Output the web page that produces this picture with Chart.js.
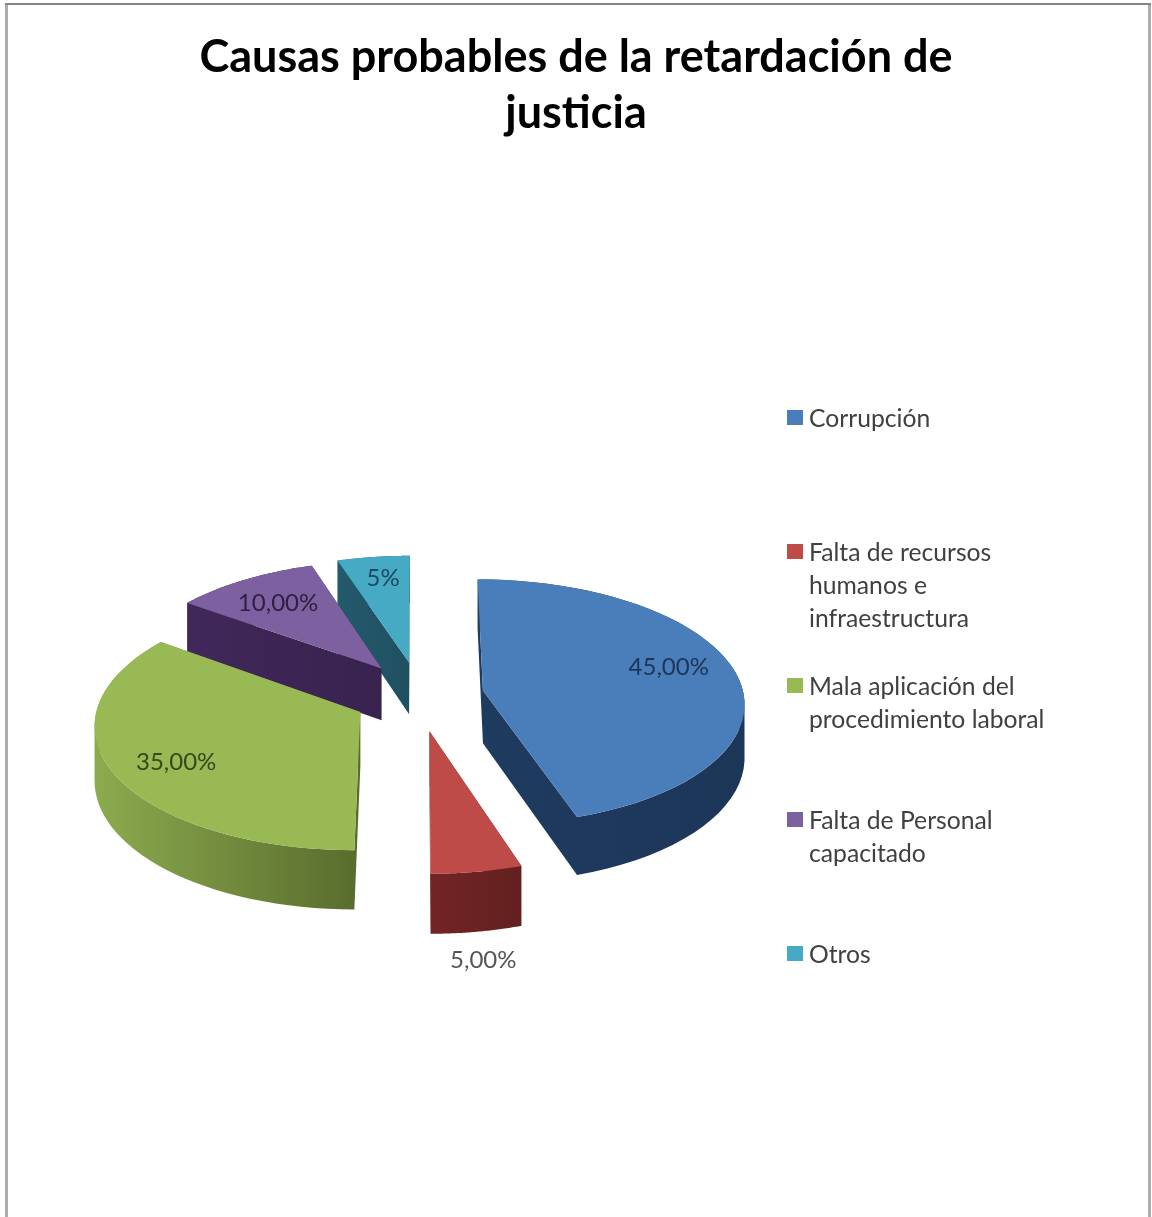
<!DOCTYPE html>
<html lang="es">
<head>
<meta charset="utf-8">
<title>Causas probables de la retardación de justicia</title>
<script src="https://cdn.jsdelivr.net/npm/chart.js@4"></script>
<style>
  html, body { margin: 0; padding: 0; background: #fff; }
  canvas { display: block; }
</style>
</head>
<body>
<canvas id="graficoCausas" width="1152" height="1217"></canvas>
<script>
const titulo = ['Causas probables de la retardación de', 'justicia'];
const categorias = [
  ['Corrupción'],
  ['Falta de recursos', 'humanos e', 'infraestructura'],
  ['Mala aplicación del', 'procedimiento laboral'],
  ['Falta de Personal', 'capacitado'],
  ['Otros']
];
const valores = [45, 5, 35, 10, 5];
const etiquetasValor = ['45,00%', '5,00%', '35,00%', '10,00%', '5%'];

const coloresCara = ['#4a7ebb', '#be4b48', '#98b954', '#7d60a0', '#46aac5'];
const lateralClaro = ['#1f3b60', '#722524', '#8cab4e', '#40285a', '#235a6c'];
const lateralOscuro = ['#1c3658', '#632020', '#586b2d', '#38234f', '#1f5061'];
const coloresEtiqueta = ['#1d3557', '#555555', '#35491c', '#2e1f42', '#1c4a60'];
// distancia de cada etiqueta al vértice, como fracción del radio, y ajuste fino en px
const radioEtiqueta = [0.73, 1.5, 0.75, 0.71, 0.77];
const ajusteEtiquetaX = [1, -21, 0, -4, 2];
const ajusteEtiquetaY = [-10, 7, 6, -1, -1];

const CENTRO_X = 419;
const RADIO = 261;
const SEPARACION = 65;
const ALTO_LATERAL = 53;
// aplastado y perspectiva del plano de la tarta
const APLASTADO = 0.469;
const PERSPECTIVA = 0.000353;
const SEPARACION_FONDO = 1.14;
const ORDEN_PINTADO = [4, 3, 2, 0, 1];

function proyectar(arco, wx, wz) {
  const s = 1 / (1 + PERSPECTIVA * wz);
  return { x: CENTRO_X + wx * s, y: arco.y - APLASTADO * wz * s, s: s };
}

function verticeSector(arco, offset) {
  const medio = (arco.startAngle + arco.endAngle) / 2;
  return {
    x: offset * Math.cos(medio),
    z: -offset * Math.sin(medio) * SEPARACION_FONDO,
    medio: medio
  };
}

function contornoSector(arco, offset) {
  const v = verticeSector(arco, offset);
  const puntos = [proyectar(arco, v.x, v.z)];
  const pasos = 48;
  for (let i = 0; i <= pasos; i++) {
    const a = arco.startAngle + (arco.endAngle - arco.startAngle) * i / pasos;
    puntos.push(proyectar(arco, v.x + arco.outerRadius * Math.cos(a), v.z - arco.outerRadius * Math.sin(a)));
  }
  return puntos;
}

// todas las paredes en un solo trazado; cada cuadrilátero va siempre
// de izquierda a derecha para que el relleno no deje huecos ni costuras
function rellenarParedes(ctx, puntos) {
  ctx.beginPath();
  puntos.forEach((p, n) => {
    const q = puntos[(n + 1) % puntos.length];
    const a = p.x <= q.x ? p : q;
    const b = p.x <= q.x ? q : p;
    ctx.moveTo(a.x, a.y);
    ctx.lineTo(b.x, b.y);
    ctx.lineTo(b.x, b.y + ALTO_LATERAL * b.s);
    ctx.lineTo(a.x, a.y + ALTO_LATERAL * a.s);
    ctx.closePath();
  });
  ctx.fill();
}

const tarta3d = {
  id: 'tarta3d',
  beforeDraw(chart) {
    const ctx = chart.ctx;
    // marco del gráfico, abierto por abajo
    ctx.save();
    ctx.fillStyle = '#adadad';
    ctx.fillRect(5, 3, 3, chart.height - 3);
    ctx.fillRect(1148, 3, 3, chart.height - 3);
    ctx.fillStyle = '#858585';
    ctx.fillRect(5, 3, 1146, 2);
    ctx.restore();
  },
  beforeDatasetsDraw(chart) {
    const ctx = chart.ctx;
    const arcos = chart.getDatasetMeta(0).data;

    ORDEN_PINTADO.forEach(i => {
      const arco = arcos[i];
      const puntos = contornoSector(arco, arco.options.offset);
      const xs = puntos.map(p => p.x);
      const degradado = ctx.createLinearGradient(Math.min(...xs), 0, Math.max(...xs), 0);
      degradado.addColorStop(0, lateralClaro[i]);
      degradado.addColorStop(1, lateralOscuro[i]);

      ctx.fillStyle = degradado;
      rellenarParedes(ctx, puntos);

      // cara superior
      ctx.beginPath();
      puntos.forEach((p, n) => (n ? ctx.lineTo(p.x, p.y) : ctx.moveTo(p.x, p.y)));
      ctx.closePath();
      ctx.fillStyle = arco.options.backgroundColor;
      ctx.fill();
    });

    return false;
  },
  afterDraw(chart) {
    const ctx = chart.ctx;
    const arcos = chart.getDatasetMeta(0).data;
    ctx.save();
    ctx.textBaseline = 'middle';

    // etiquetas de valor
    ctx.font = '24px Lato';
    ctx.textAlign = 'center';
    arcos.forEach((arco, i) => {
      const v = verticeSector(arco, arco.options.offset);
      const r = arco.outerRadius * radioEtiqueta[i];
      const p = proyectar(arco, v.x + r * Math.cos(v.medio), v.z - r * Math.sin(v.medio));
      ctx.fillStyle = coloresEtiqueta[i];
      ctx.fillText(etiquetasValor[i], p.x + ajusteEtiquetaX[i], p.y + ajusteEtiquetaY[i]);
    });

    // leyenda
    ctx.textAlign = 'left';
    ctx.font = '24.7px Lato';
    categorias.forEach((lineas, i) => {
      const y = 419 + i * 134;
      ctx.fillStyle = coloresCara[i];
      ctx.fillRect(787, y - 9, 16, 15);
      ctx.fillStyle = '#404040';
      lineas.forEach((linea, n) => ctx.fillText(linea, 809, y + n * 33));
    });
    ctx.restore();
  }
};

new Chart(document.getElementById('graficoCausas'), {
  type: 'pie',
  data: {
    labels: categorias,
    datasets: [{
      data: valores,
      backgroundColor: coloresCara,
      borderWidth: 0,
      offset: SEPARACION
    }]
  },
  options: {
    responsive: false,
    animation: false,
    radius: RADIO,
    plugins: {
      legend: { display: false },
      tooltip: { enabled: false },
      title: {
        display: true,
        text: titulo,
        color: '#000',
        font: { family: 'Lato', size: 45, weight: 'bold', lineHeight: 56 / 45 },
        padding: { top: 29, bottom: 34 }
      }
    }
  },
  plugins: [tarta3d]
});
</script>
</body>
</html>
